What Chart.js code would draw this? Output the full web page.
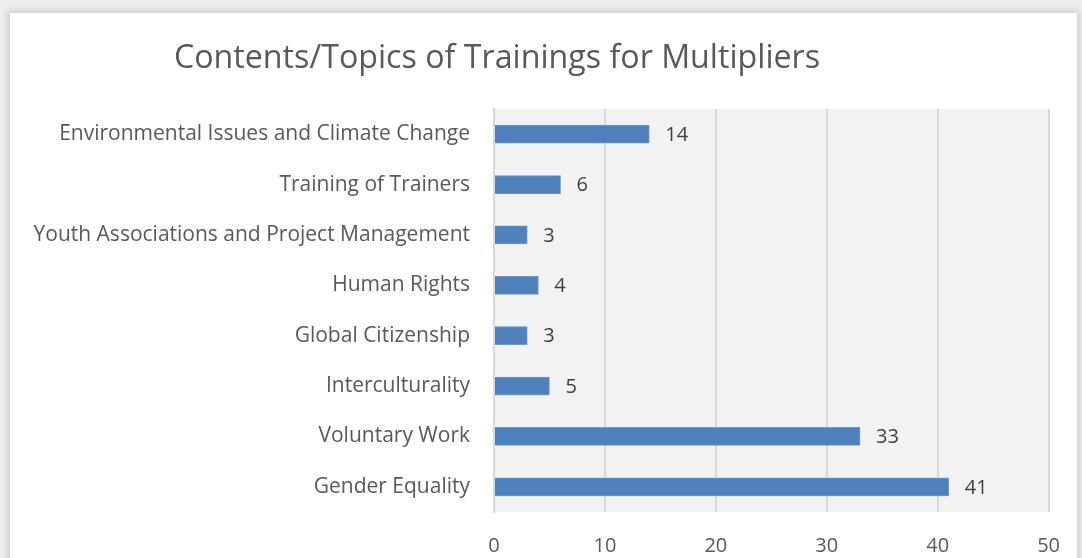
<!DOCTYPE html>
<html><head><meta charset="utf-8">
<script src="https://cdn.jsdelivr.net/npm/chart.js@4/dist/chart.umd.min.js"></script>
<style>
html,body{margin:0;padding:0;width:1082px;height:558px;overflow:hidden;background:#eeeeee;}
#card{position:absolute;left:10px;top:13px;width:1067px;height:600px;background:#fff;box-shadow:0 0 6px 3px rgba(0,0,0,0.12);}
#wrap{position:absolute;left:0;top:0;width:1082px;height:558px;}
</style></head><body>
<div id="card"></div>
<div id="wrap"><canvas id="c" width="1082" height="558"></canvas></div>
<script>
const chartTitle = "Contents/Topics of Trainings for Multipliers";
const categories = ["Environmental Issues and Climate Change","Training of Trainers","Youth Associations and Project Management","Human Rights","Global Citizenship","Interculturality","Voluntary Work","Gender Equality"];
const values = [14,6,3,4,3,5,33,41];
const xTicks = [0,10,20,30,40,50];

const FONT = "'Open Sans', sans-serif";

const plotBg = {
  id:'plotBg',
  beforeDraw(chart){
    const {ctx, chartArea:a} = chart;
    ctx.save(); ctx.fillStyle='#f2f2f2';
    ctx.fillRect(a.left,a.top,a.right-a.left,a.bottom-a.top);
    ctx.restore();
  }
};
const titlePlugin = {
  id:'titleDraw',
  afterDraw(chart){
    const ctx = chart.ctx;
    ctx.save();
    ctx.font = "32.2px " + FONT;
    ctx.fillStyle = '#595959';
    ctx.textAlign='center'; ctx.textBaseline='middle';
    ctx.fillText(chartTitle, 497, 59);
    ctx.restore();
  }
};
const labelPlugin = {
  id:'valLabels',
  afterDatasetsDraw(chart){
    const ctx = chart.ctx; const meta = chart.getDatasetMeta(0);
    ctx.save();
    ctx.font = "20px " + FONT; ctx.fillStyle='#404040';
    ctx.textAlign='left'; ctx.textBaseline='middle';
    meta.data.forEach((bar,i)=>{
      ctx.fillText(String(values[i]), bar.x + 16, bar.y + 1);
    });
    ctx.restore();
  }
};

new Chart(document.getElementById('c'), {
  type:'bar',
  data:{labels:categories, datasets:[{data:values, backgroundColor:'#4f81bd', borderColor:'#6d98cb', borderWidth:1, barThickness:18}]},
  options:{
    indexAxis:'y', responsive:false, animation:false,
    layout:{padding:{top:109, right:30, left:0, bottom:0}},
    plugins:{legend:{display:false}, tooltip:{enabled:false}, title:{display:false}},
    scales:{
      x:{min:0,max:50,
        afterBuildTicks(axis){ axis.ticks = xTicks.map(v=>({value:v})); },
        afterFit(axis){ axis.height = 46; },
        grid:{color:'#d9d9d9', lineWidth:2, drawTicks:false},
        border:{display:false},
        ticks:{color:'#595959', font:{family:FONT,size:20}, padding:22}
      },
      y:{
        afterFit(axis){ axis.width = 494; },
        grid:{display:false, drawTicks:false},
        border:{display:true, color:'#d9d9d9', width:2},
        ticks:{color:'#595959', font:{family:FONT,size:21}, padding:24}
      }
    }
  },
  plugins:[plotBg, labelPlugin, titlePlugin]
});
</script>
</body></html>
